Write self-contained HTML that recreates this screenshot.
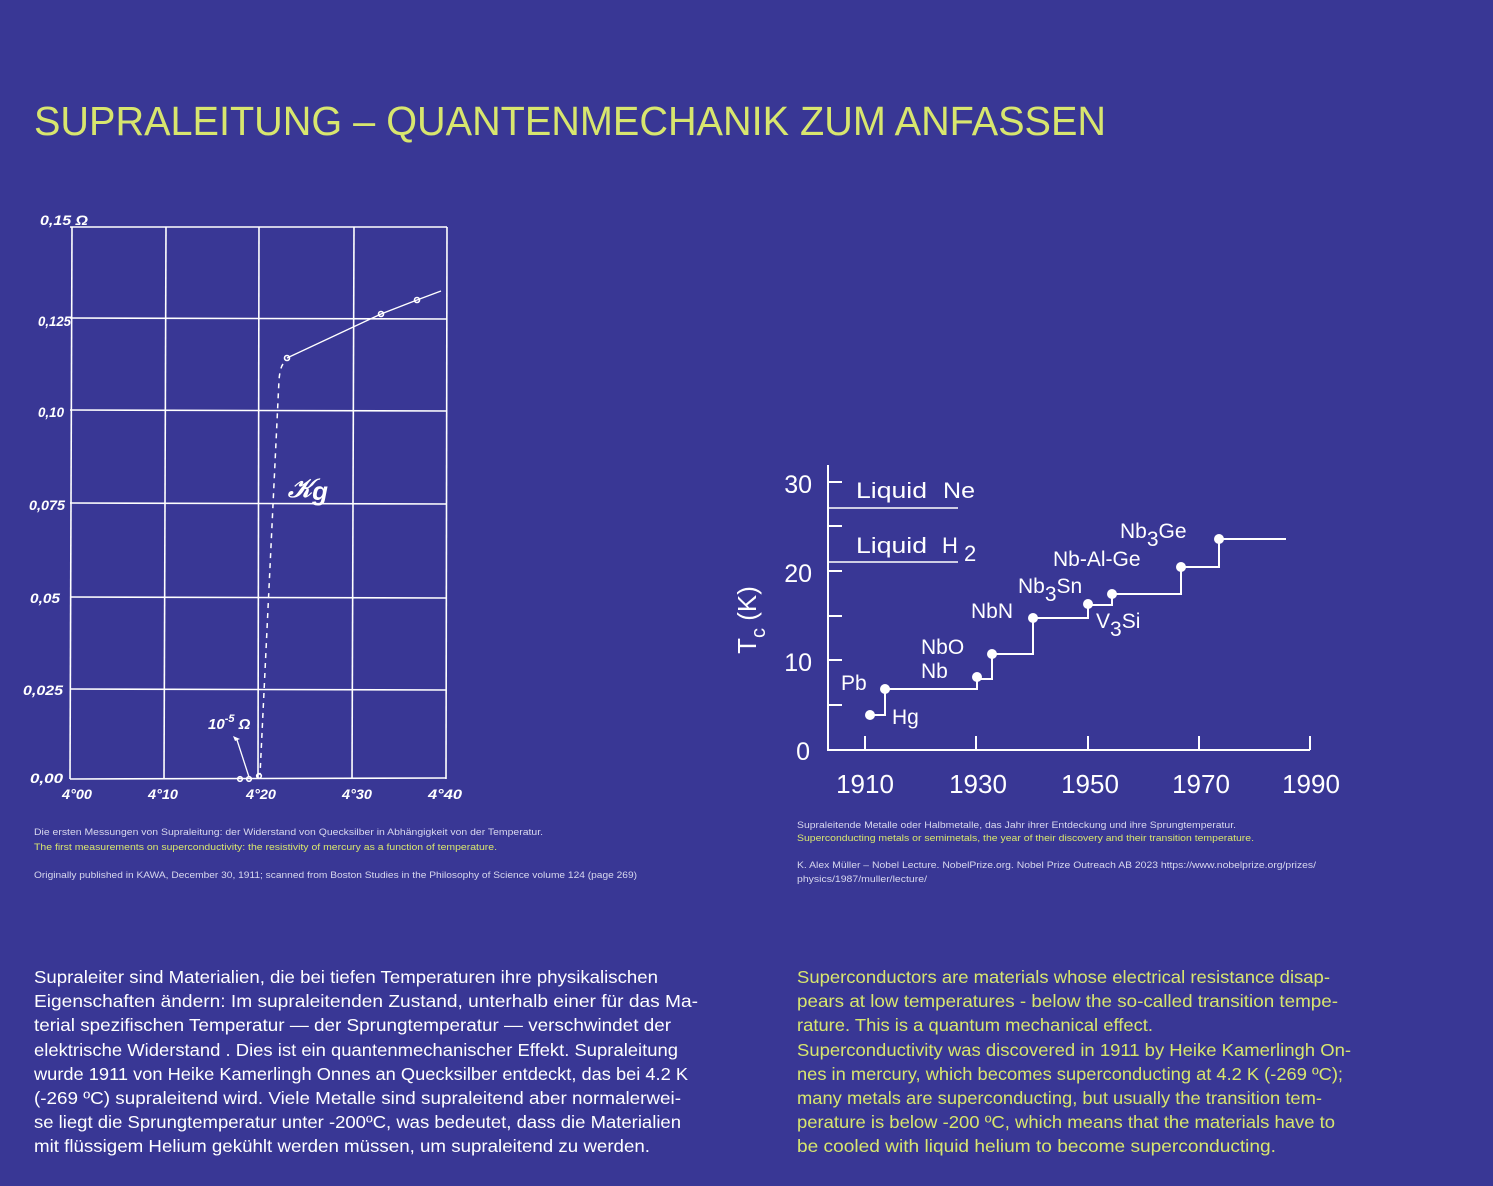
<!DOCTYPE html>
<html><head><meta charset="utf-8"><style>
html,body{margin:0;padding:0;background:#393795;}
svg{display:block}
text{font-family:"Liberation Sans",sans-serif;}
.w{fill:#ffffff}.y{fill:#d8e66e}.g{fill:#d8d8ee}
</style></head><body>
<svg width="1493" height="1186" viewBox="0 0 1493 1186" xmlns="http://www.w3.org/2000/svg">
<rect width="1493" height="1186" fill="#393795"/>
<text x="34" y="135" font-size="41" class="y" textLength="1072" lengthAdjust="spacingAndGlyphs">SUPRALEITUNG – QUANTENMECHANIK ZUM ANFASSEN</text>

<!-- left chart -->
<g stroke="#fff" stroke-width="1.6" fill="none">
<line x1="70" y1="227" x2="447" y2="227"/>
<line x1="70" y1="318" x2="447" y2="319"/>
<line x1="70" y1="410" x2="447" y2="411"/>
<line x1="70" y1="503" x2="446" y2="504"/>
<line x1="70" y1="597" x2="446" y2="598"/>
<line x1="70" y1="689" x2="446" y2="690"/>
<line x1="70" y1="779" x2="446" y2="778"/>
<line x1="72" y1="227" x2="70" y2="779"/>
<line x1="166" y1="227" x2="164" y2="779"/>
<line x1="259" y1="227" x2="258" y2="779"/>
<line x1="354" y1="227" x2="352" y2="779"/>
<line x1="447" y1="227" x2="446" y2="779"/>
<polyline points="287,358 381,314 417,300 441,291" stroke-width="1.3"/>
<path d="M283,364 Q280,368 279,380 L260,775" stroke-dasharray="5,5" stroke-width="1.5"/>
<line x1="249" y1="777" x2="237" y2="740" stroke-width="1.3"/>
<circle cx="287" cy="358" r="2.5"/><circle cx="381" cy="314" r="2.5"/><circle cx="417" cy="300" r="2.5"/>
<circle cx="240" cy="779" r="2.3"/><circle cx="249" cy="779" r="2.3"/><circle cx="259" cy="776" r="2.3"/>
</g>
<path d="M233,736 l7,3 l-5,2 z" fill="#fff"/>
<g font-size="14" font-style="italic" font-weight="bold" class="w">
<text x="40" y="225" textLength="48" lengthAdjust="spacingAndGlyphs">0,15 Ω</text>
<text x="38" y="326" textLength="33" lengthAdjust="spacingAndGlyphs">0,125</text>
<text x="38" y="417" textLength="26" lengthAdjust="spacingAndGlyphs">0,10</text>
<text x="29" y="510" textLength="36" lengthAdjust="spacingAndGlyphs">0,075</text>
<text x="30" y="603" textLength="30" lengthAdjust="spacingAndGlyphs">0,05</text>
<text x="23" y="695" textLength="40" lengthAdjust="spacingAndGlyphs">0,025</text>
<text x="30" y="783" textLength="33" lengthAdjust="spacingAndGlyphs">0,00</text>
<text x="62" y="799" textLength="30" lengthAdjust="spacingAndGlyphs">4°00</text>
<text x="148" y="799" textLength="30" lengthAdjust="spacingAndGlyphs">4°10</text>
<text x="246" y="799" textLength="30" lengthAdjust="spacingAndGlyphs">4°20</text>
<text x="342" y="799" textLength="30" lengthAdjust="spacingAndGlyphs">4°30</text>
<text x="428" y="799" textLength="34" lengthAdjust="spacingAndGlyphs">4°40</text>
<text x="208" y="729" font-size="15">10<tspan font-size="11" dy="-7">-5</tspan><tspan dy="7"> Ω</tspan></text>
<text x="288" y="497" font-size="26" font-family="Liberation Serif">𝒦<tspan dy="3">g</tspan></text>
</g>

<!-- right chart -->
<g stroke="#fff" stroke-width="2" fill="none">
<line x1="828" y1="465" x2="828" y2="751"/>
<line x1="827" y1="750" x2="1310" y2="750"/>
<line x1="828" y1="482" x2="842" y2="482"/><line x1="828" y1="526" x2="842" y2="526"/>
<line x1="828" y1="571" x2="842" y2="571"/><line x1="828" y1="616" x2="842" y2="616"/>
<line x1="828" y1="660" x2="842" y2="660"/><line x1="828" y1="705" x2="842" y2="705"/>
<line x1="865" y1="750" x2="865" y2="736"/><line x1="976" y1="750" x2="976" y2="736"/>
<line x1="1088" y1="750" x2="1088" y2="736"/><line x1="1199" y1="750" x2="1199" y2="736"/>
<line x1="1310" y1="750" x2="1310" y2="736"/>
<line x1="828" y1="508" x2="958" y2="508" stroke-width="1.5"/>
<line x1="828" y1="562" x2="958" y2="562" stroke-width="1.5"/>
<polyline points="870,715 885,715 885,689 977,689 977,679 992,679 992,654 1033,654 1033,618 1088,618 1088,605 1112,605 1112,594 1181,594 1181,567 1219,567 1219,539 1286,539"/>
</g>
<g fill="#fff">
<circle cx="870" cy="715" r="5"/><circle cx="885" cy="689" r="5"/><circle cx="977" cy="677" r="5"/>
<circle cx="992" cy="654" r="5"/><circle cx="1033" cy="618" r="5"/><circle cx="1088" cy="604" r="5"/>
<circle cx="1112" cy="594" r="5"/><circle cx="1181" cy="567" r="5"/><circle cx="1219" cy="539" r="5"/>
</g>
<g font-size="25" class="w" text-anchor="end">
<text x="812" y="493">30</text><text x="812" y="582">20</text><text x="812" y="671">10</text><text x="810" y="760">0</text>
</g>
<g font-size="26" class="w" text-anchor="middle">
<text x="865" y="793">1910</text><text x="978" y="793">1930</text><text x="1090" y="793">1950</text>
<text x="1201" y="793">1970</text><text x="1311" y="793">1990</text>
</g>
<text transform="translate(756,620) rotate(-90)" font-size="26" class="w" text-anchor="middle">T<tspan font-size="20" dy="9">c</tspan><tspan dy="-9"> (K)</tspan></text>
<g font-size="22" class="w">
<text x="856" y="498" textLength="71" lengthAdjust="spacingAndGlyphs">Liquid</text><text x="943" y="498" textLength="32" lengthAdjust="spacingAndGlyphs">Ne</text>
<text x="856" y="553" textLength="71" lengthAdjust="spacingAndGlyphs">Liquid</text><text x="942" y="553">H</text><text x="964" y="561">2</text>
</g>
<g font-size="21" class="w">
<text x="841" y="690">Pb</text><text x="892" y="724">Hg</text>
<text x="921" y="678">Nb</text><text x="921" y="654">NbO</text>
<text x="971" y="618">NbN</text>
<text x="1018" y="593">Nb<tspan dy="8">3</tspan><tspan dy="-8">Sn</tspan></text>
<text x="1096" y="628">V<tspan dy="8">3</tspan><tspan dy="-8">Si</tspan></text>
<text x="1053" y="566">Nb-Al-Ge</text>
<text x="1120" y="538">Nb<tspan dy="8">3</tspan><tspan dy="-8">Ge</tspan></text>
</g>

<!-- captions -->
<g font-size="9">
<text x="34" y="835" class="g" textLength="509" lengthAdjust="spacingAndGlyphs">Die ersten Messungen von Supraleitung: der Widerstand von Quecksilber in Abhängigkeit von der Temperatur.</text>
<text x="34" y="850" class="y" textLength="463" lengthAdjust="spacingAndGlyphs">The first measurements on superconductivity: the resistivity of mercury as a function of temperature.</text>
<text x="34" y="878" class="g" textLength="603" lengthAdjust="spacingAndGlyphs">Originally published in KAWA, December 30, 1911; scanned from Boston Studies in the Philosophy of Science volume 124 (page 269)</text>
<text x="797" y="828" class="g" textLength="439" lengthAdjust="spacingAndGlyphs">Supraleitende Metalle oder Halbmetalle, das Jahr ihrer Entdeckung und ihre Sprungtemperatur.</text>
<text x="797" y="841" class="y" textLength="457" lengthAdjust="spacingAndGlyphs">Superconducting metals or semimetals, the year of their discovery and their transition temperature.</text>
<text x="797" y="868" class="g" textLength="519" lengthAdjust="spacingAndGlyphs">K. Alex Müller – Nobel Lecture. NobelPrize.org. Nobel Prize Outreach AB 2023 https://www.nobelprize.org/prizes/</text>
<text x="797" y="882" class="g" textLength="130" lengthAdjust="spacingAndGlyphs">physics/1987/muller/lecture/</text>
</g>

<!-- body -->
<g font-size="17.5" class="w">
<text x="34" y="983" textLength="624" lengthAdjust="spacingAndGlyphs">Supraleiter sind  Materialien, die bei tiefen Temperaturen ihre physikalischen</text>
<text x="34" y="1007" textLength="664" lengthAdjust="spacingAndGlyphs">Eigenschaften ändern: Im supraleitenden Zustand, unterhalb einer für das Ma-</text>
<text x="34" y="1031" textLength="637" lengthAdjust="spacingAndGlyphs">terial spezifischen Temperatur — der Sprungtemperatur —  verschwindet der</text>
<text x="34" y="1056" textLength="644" lengthAdjust="spacingAndGlyphs">elektrische Widerstand . Dies ist ein quantenmechanischer Effekt. Supraleitung</text>
<text x="34" y="1080" textLength="654" lengthAdjust="spacingAndGlyphs">wurde 1911 von Heike Kamerlingh Onnes an Quecksilber entdeckt, das bei 4.2 K</text>
<text x="34" y="1104" textLength="647" lengthAdjust="spacingAndGlyphs">(-269 ºC) supraleitend wird. Viele Metalle sind supraleitend aber normalerwei-</text>
<text x="34" y="1128" textLength="647" lengthAdjust="spacingAndGlyphs">se liegt die Sprungtemperatur unter -200ºC, was bedeutet, dass die Materialien</text>
<text x="34" y="1152" textLength="616" lengthAdjust="spacingAndGlyphs">mit flüssigem Helium gekühlt werden müssen, um supraleitend zu werden.</text>
</g>
<g font-size="17.5" class="y">
<text x="797" y="983" textLength="533" lengthAdjust="spacingAndGlyphs">Superconductors are materials whose electrical resistance disap-</text>
<text x="797" y="1007" textLength="541" lengthAdjust="spacingAndGlyphs">pears at low temperatures - below the so-called transition tempe-</text>
<text x="797" y="1031" textLength="356" lengthAdjust="spacingAndGlyphs">rature. This is a quantum mechanical effect.</text>
<text x="797" y="1056" textLength="554" lengthAdjust="spacingAndGlyphs">Superconductivity was discovered in 1911 by Heike Kamerlingh On-</text>
<text x="797" y="1080" textLength="546" lengthAdjust="spacingAndGlyphs">nes in mercury, which becomes superconducting at 4.2 K (-269 ºC);</text>
<text x="797" y="1104" textLength="525" lengthAdjust="spacingAndGlyphs">many metals are superconducting, but usually the transition tem-</text>
<text x="797" y="1128" textLength="538" lengthAdjust="spacingAndGlyphs">perature is below -200 ºC, which means that the materials have to</text>
<text x="797" y="1152" textLength="479" lengthAdjust="spacingAndGlyphs">be cooled with liquid helium to become superconducting.</text>
</g>
</svg>
</body></html>
